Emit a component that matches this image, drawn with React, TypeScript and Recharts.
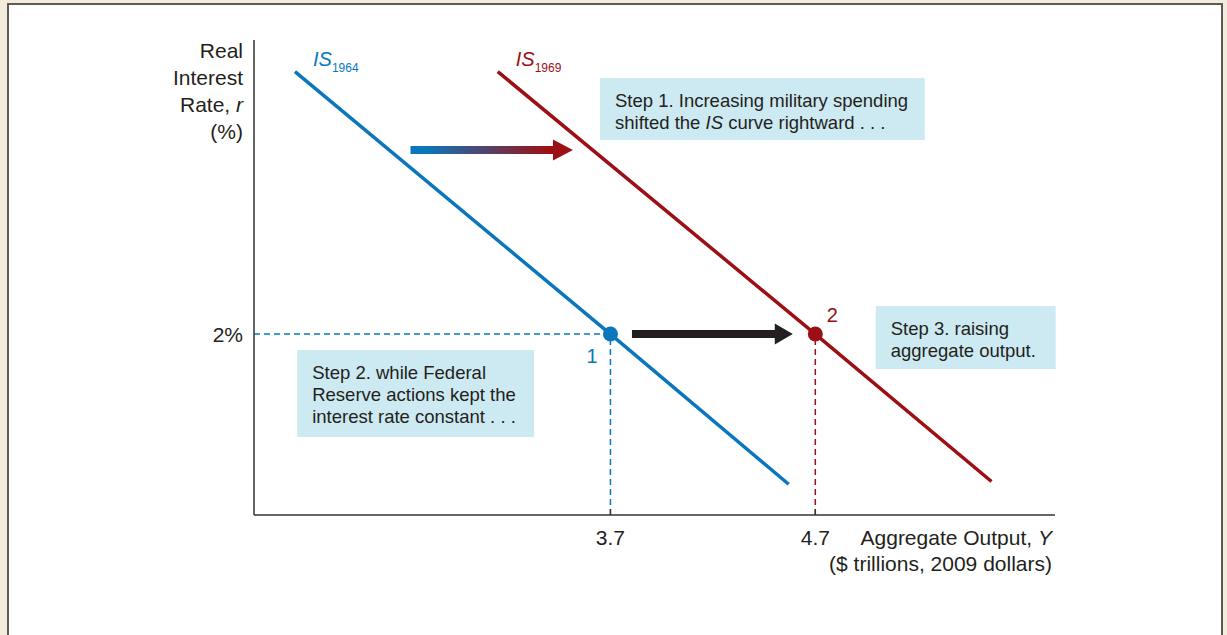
import React from 'react';
import {
  ComposedChart,
  Line,
  XAxis,
  YAxis,
  ReferenceLine,
  ReferenceDot,
  ReferenceArea,
} from 'recharts';

// ---------- data ----------
const is1964X = [2.16, 3.7, 4.57];
const is1964R = [4.9, 2.0, 0.34];
const is1969X = [3.15, 4.7, 5.56];
const is1969R = [4.9, 2.0, 0.37];
const xTicks = [3.7, 4.7];
const xTickLabels = ['3.7', '4.7'];
const yTicks = [2];
const yTickLabels = ['2%'];
const equilibriumX = [3.7, 4.7];
const equilibriumR = 2;
const equilibriumLabels = ['1', '2'];
const xDomain = [1.96, 5.87];
const yDomain = [0, 5.25];
const yLabelLines = ['Real', 'Interest', 'Rate, ', '(%)'];
const xLabelLines = ['Aggregate Output, ', '($ trillions, 2009 dollars)'];

// annotation boxes (data coords)
const box1 = { x1: 3.649, x2: 5.234, y1: 4.144, y2: 4.829 };
const box2 = { x1: 2.171, x2: 3.327, y1: 0.862, y2: 1.823 };
const box3 = { x1: 4.995, x2: 5.873, y1: 1.613, y2: 2.309 };
const shiftArrow = { x1: 2.724, x2: 3.517, y1: 3.917, y2: 4.149 };
const outputArrow = { x1: 3.805, x2: 4.59, y1: 1.884, y2: 2.116 };

const is1964 = is1964X.map((x, i) => ({ x, r: is1964R[i] }));
const is1969 = is1969X.map((x, i) => ({ x, r: is1969R[i] }));

// ---------- styles ----------
const FONT = '"Liberation Sans", Arial, Helvetica, sans-serif';
const BLUE = '#0a77bd';
const RED = '#9c1015';
const TEXT = '#231f20';
const BOXFILL = '#cde9f1';
const AXIS = '#333333';

type Seg = { t: string; i?: boolean };
const step1: Seg[][] = [
  [{ t: 'Step 1. Increasing military spending' }],
  [{ t: 'shifted the ' }, { t: 'IS', i: true }, { t: ' curve rightward . . .' }],
];
const step2: Seg[][] = [
  [{ t: 'Step 2. while Federal' }],
  [{ t: 'Reserve actions kept the' }],
  [{ t: 'interest rate constant . . .' }],
];
const step3: Seg[][] = [[{ t: 'Step 3. raising' }], [{ t: 'aggregate output.' }]];

const boxShape = (lines: Seg[][]) => (p: any) => {
  const x = p.x;
  const y = Math.min(p.y, p.y + p.height);
  const w = Math.abs(p.width);
  const h = Math.abs(p.height);
  return (
    <g>
      <rect x={x} y={y} width={w} height={h} fill={BOXFILL} />
      {lines.map((segs, li) => (
        <text
          key={li}
          x={x + 15}
          y={y + 28.5 + li * 22}
          fontFamily={FONT}
          fontSize={18.5}
          fill={TEXT}
        >
          {segs.map((s, si) => (
            <tspan key={si} fontStyle={s.i ? 'italic' : 'normal'}>
              {s.t}
            </tspan>
          ))}
        </text>
      ))}
    </g>
  );
};

const arrowShape = (id: string, c0: string, c1: string, headLen: number) => (p: any) => {
  const x = p.x;
  const y = Math.min(p.y, p.y + p.height);
  const w = Math.abs(p.width);
  const h = Math.abs(p.height);
  const cy = y + h / 2;
  const sh = h * 0.38;
  const hx = x + w - headLen;
  const pts = [
    [x, cy - sh / 2],
    [hx, cy - sh / 2],
    [hx, y],
    [x + w, cy],
    [hx, y + h],
    [hx, cy + sh / 2],
    [x, cy + sh / 2],
  ]
    .map((q) => q.join(','))
    .join(' ');
  return (
    <g>
      <defs>
        <linearGradient id={id} gradientUnits="userSpaceOnUse" x1={x} y1={0} x2={x + w} y2={0}>
          <stop offset="0" stopColor={c0} />
          <stop offset="0.08" stopColor={c0} />
          <stop offset="0.85" stopColor={c1} />
          <stop offset="1" stopColor={c1} />
        </linearGradient>
      </defs>
      <polygon points={pts} fill={`url(#${id})`} />
    </g>
  );
};

const isLabel = (year: string, color: string) => (p: any) => (
  <text x={p.cx + 18} y={p.cy - 6} fontFamily={FONT} fontSize={20} fill={color} fontStyle="italic">
    IS
    <tspan fontSize={12} fontStyle="normal" dy={6.5}>
      {year}
    </tspan>
  </text>
);

const eqDot = (color: string, label: string, dx: number, dy: number) => (p: any) => (
  <g>
    <circle cx={p.cx} cy={p.cy} r={7.5} fill={color} />
    <text x={p.cx + dx} y={p.cy + dy} textAnchor="middle" fontFamily={FONT} fontSize={20} fill={color}>
      {label}
    </text>
  </g>
);

const XTick = (p: any) => {
  const i = xTicks.indexOf(p.payload.value);
  return (
    <g>
      <line x1={p.x} x2={p.x} y1={p.y} y2={p.y - 6} stroke={AXIS} strokeWidth={1.3} />
      <text x={p.x} y={p.y + 30} textAnchor="middle" fontFamily={FONT} fontSize={21} fill={TEXT}>
        {xTickLabels[i]}
      </text>
    </g>
  );
};

const YTick = (p: any) => {
  const i = yTicks.indexOf(p.payload.value);
  return (
    <text x={p.x - 11} y={p.y + 7.5} textAnchor="end" fontFamily={FONT} fontSize={21} fill={TEXT}>
      {yTickLabels[i]}
    </text>
  );
};

const YLabel = (p: any) => {
  const vb = p.viewBox || {};
  const rx = vb.x + vb.width - 11;
  return (
    <g>
      {yLabelLines.map((l, i) => (
        <text key={i} x={rx} y={vb.y + 17.5 + i * 27} textAnchor="end" fontFamily={FONT} fontSize={21} fill={TEXT}>
          {l}
          {i === 2 ? <tspan fontStyle="italic">r</tspan> : null}
        </text>
      ))}
    </g>
  );
};

const XLabel = (p: any) => {
  const vb = p.viewBox || {};
  const rx = vb.x + vb.width - 3;
  return (
    <g>
      {xLabelLines.map((l, i) => (
        <text key={i} x={rx} y={vb.y + 29.5 + i * 26} textAnchor="end" fontFamily={FONT} fontSize={21} fill={TEXT}>
          {l}
          {i === 0 ? <tspan fontStyle="italic">Y</tspan> : null}
        </text>
      ))}
    </g>
  );
};

export default function App() {
  return (
    <div
      style={{
        position: 'absolute',
        left: 0,
        top: 0,
        width: 1227,
        height: 635,
        overflow: 'hidden',
        background: '#f3ecdd',
      }}
    >
      <div
        style={{
          position: 'absolute',
          left: 7,
          top: 3,
          width: 1216,
          height: 700,
          boxSizing: 'border-box',
          border: '2px solid #5c5a58',
          background: '#ffffff',
        }}
      />
      <div style={{ position: 'absolute', left: 0, top: 0 }}>
        <ComposedChart width={1227} height={635} margin={{ top: 40, right: 172, bottom: 0, left: 0 }}>
          <XAxis
            dataKey="x"
            type="number"
            domain={xDomain}
            ticks={xTicks}
            allowDataOverflow
            height={120}
            tickSize={0}
            tickMargin={0}
            tickLine={false}
            tick={<XTick />}
            axisLine={{ stroke: AXIS, strokeWidth: 1.5 }}
            label={{ content: <XLabel /> } as any}
          />
          <YAxis
            dataKey="r"
            type="number"
            domain={yDomain}
            ticks={yTicks}
            allowDataOverflow
            width={254}
            tickSize={0}
            tickMargin={0}
            tickLine={false}
            tick={<YTick />}
            axisLine={{ stroke: AXIS, strokeWidth: 1.5 }}
            label={{ content: <YLabel /> } as any}
          />
          <ReferenceArea {...box1} ifOverflow="visible" shape={boxShape(step1)} />
          <ReferenceArea {...box2} ifOverflow="visible" shape={boxShape(step2)} />
          <ReferenceArea {...box3} ifOverflow="visible" shape={boxShape(step3)} />
          <ReferenceArea {...shiftArrow} ifOverflow="visible" shape={arrowShape('gradArrow', BLUE, RED, 20)} />
          <ReferenceArea {...outputArrow} ifOverflow="visible" shape={arrowShape('blackArrow', TEXT, TEXT, 18)} />
          <ReferenceLine
            segment={[
              { x: xDomain[0], y: equilibriumR },
              { x: equilibriumX[0], y: equilibriumR },
            ]}
            stroke={BLUE}
            strokeWidth={1.5}
            strokeDasharray="6 4"
            ifOverflow="visible"
          />
          <ReferenceLine
            segment={[
              { x: equilibriumX[0], y: yDomain[0] },
              { x: equilibriumX[0], y: equilibriumR },
            ]}
            stroke={BLUE}
            strokeWidth={1.5}
            strokeDasharray="6 4"
            ifOverflow="visible"
          />
          <ReferenceLine
            segment={[
              { x: equilibriumX[1], y: yDomain[0] },
              { x: equilibriumX[1], y: equilibriumR },
            ]}
            stroke={RED}
            strokeWidth={1.5}
            strokeDasharray="6 4"
            ifOverflow="visible"
          />
          <Line
            data={is1964}
            dataKey="r"
            type="linear"
            stroke={BLUE}
            strokeWidth={3.5}
            dot={false}
            activeDot={false}
            isAnimationActive={false}
          />
          <Line
            data={is1969}
            dataKey="r"
            type="linear"
            stroke={RED}
            strokeWidth={3.5}
            dot={false}
            activeDot={false}
            isAnimationActive={false}
          />
          <ReferenceDot x={is1964X[0]} y={is1964R[0]} ifOverflow="visible" shape={isLabel('1964', BLUE)} />
          <ReferenceDot x={is1969X[0]} y={is1969R[0]} ifOverflow="visible" shape={isLabel('1969', RED)} />
          <ReferenceDot
            x={equilibriumX[0]}
            y={equilibriumR}
            ifOverflow="visible"
            shape={eqDot(BLUE, equilibriumLabels[0], -18.5, 28.5)}
          />
          <ReferenceDot
            x={equilibriumX[1]}
            y={equilibriumR}
            ifOverflow="visible"
            shape={eqDot(RED, equilibriumLabels[1], 17, -12)}
          />
        </ComposedChart>
      </div>
    </div>
  );
}
